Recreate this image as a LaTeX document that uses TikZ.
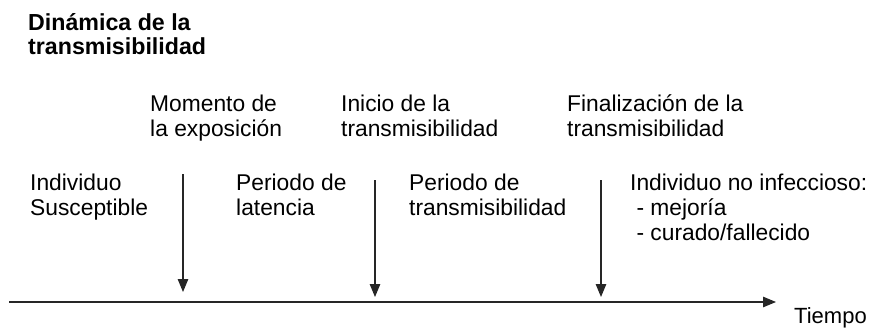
\documentclass[tikz,border=0pt]{standalone}
\usepackage{fontspec}
\setmainfont{Liberation Sans}
\usetikzlibrary{arrows.meta}
\tikzset{
  lbl/.style={anchor=base west, inner sep=0pt, align=left, font=\fontsize{22.8}{25}\selectfont},
  ttl/.style={lbl, font=\fontsize{23.2}{24}\selectfont\bfseries},
  pointer/.style={draw=black!85, line width=1.2pt, -{Triangle[length=13pt,width=10.5pt]}},
}
\begin{document}
\begin{tikzpicture}[x=1pt,y=-1pt]
\useasboundingbox (0,0) rectangle (879,329);
\node[ttl] (title) at (28,55) {Dinámica de la\\transmisibilidad};
\node[lbl] (m1) at (150,136) {Momento de\\la exposición};
\node[lbl] (m2) at (341,136) {Inicio de la\\transmisibilidad};
\node[lbl] (m3) at (567,136) {Finalización de la\\transmisibilidad};
\node[lbl] (p1) at (30,215) {Individuo\\Susceptible};
\node[lbl] (p2) at (236,215) {Periodo de\\latencia};
\node[lbl] (p3) at (409,215) {Periodo de\\transmisibilidad};
\node[lbl] (p4) at (630,240) {Individuo no infeccioso:\\\ - mejoría\\\ - curado/fallecido};
\node[lbl, font=\fontsize{22}{25}\selectfont] (t) at (794,323) {Tiempo};
\coordinate (a1s) at (183,174);
\coordinate (a1e) at (183,292);
\coordinate (a2s) at (375,180);
\coordinate (a2e) at (375,297);
\coordinate (a3s) at (601,180);
\coordinate (a3e) at (601,297);
\coordinate (axs) at (9,302);
\coordinate (axe) at (776,302);
\draw[pointer] (a1s) -- (a1e);
\draw[pointer] (a2s) -- (a2e);
\draw[pointer] (a3s) -- (a3e);
\draw[pointer] (axs) -- (axe);
\end{tikzpicture}
\end{document}
